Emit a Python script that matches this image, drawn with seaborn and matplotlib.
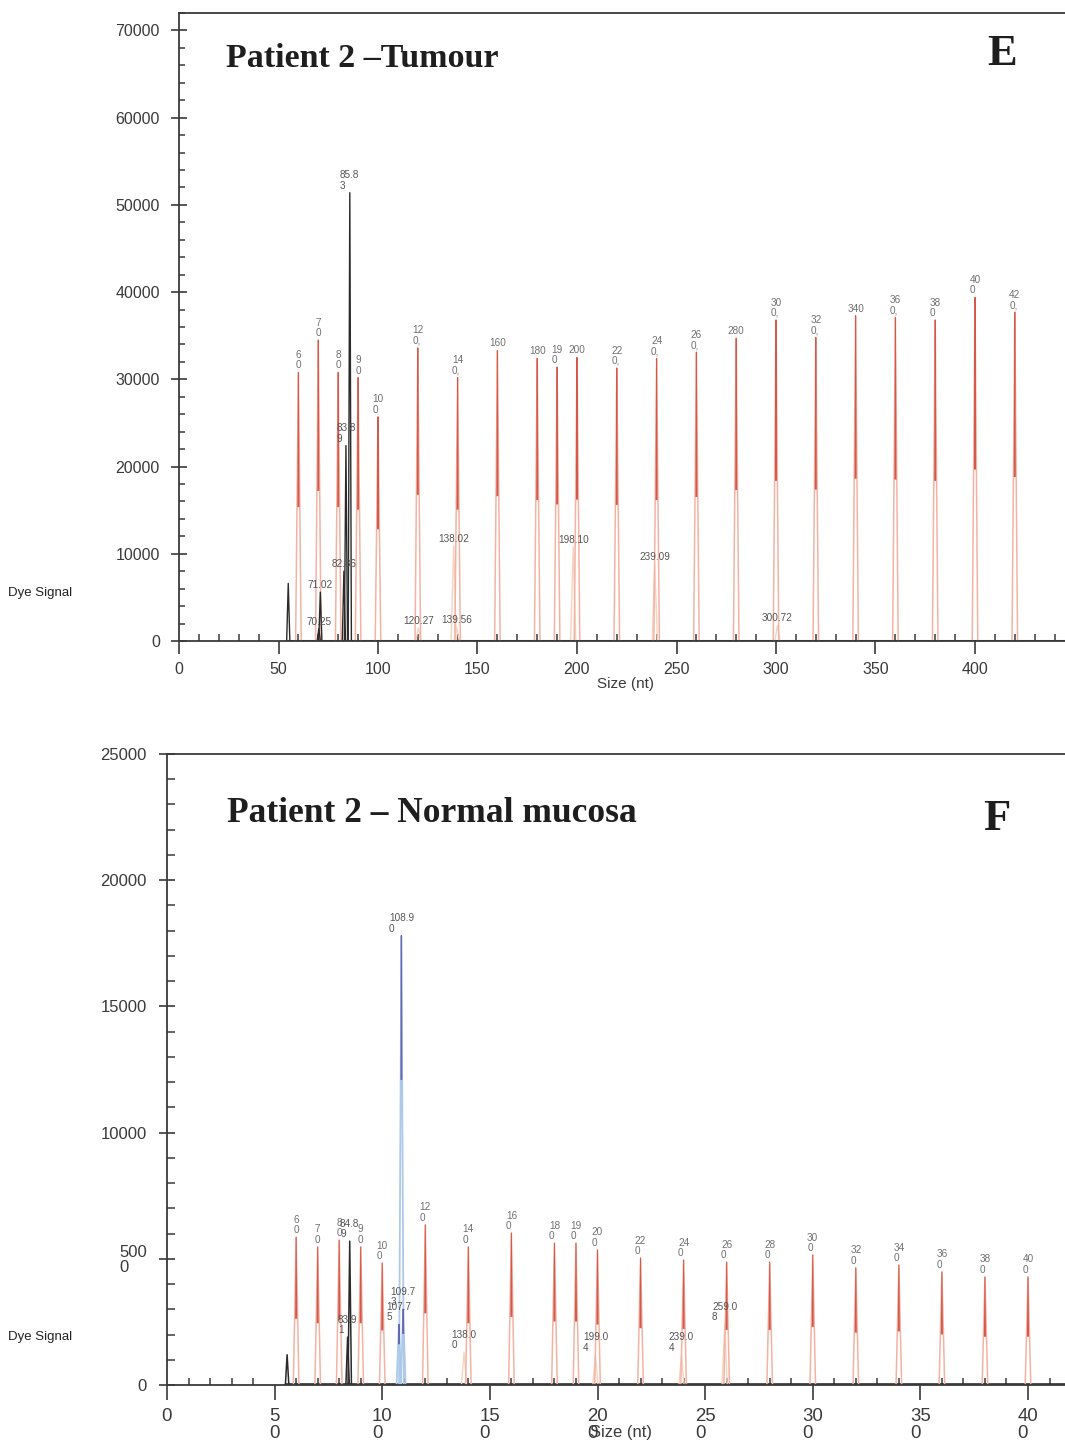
import numpy as np
import pandas as pd
import matplotlib
matplotlib.use("Agg")
import matplotlib.pyplot as plt
from matplotlib.ticker import MultipleLocator, FixedLocator
import seaborn as sns

# ---------------- Panel E : Patient 2 - Tumour ----------------
e_ladder_size = [60, 70, 80, 90, 100, 120, 140, 160, 180, 190, 200, 220,
                 240, 260, 280, 300, 320, 340, 360, 380, 400, 420]
e_ladder_height = [30800, 34500, 30800, 30200, 25700, 33600, 30200, 33300,
                   32400, 31400, 32500, 31300, 32400, 33100, 34700, 36800,
                   34800, 37300, 37100, 36800, 39400, 37700]
e_ladder_label = ["6\n0", "7\n0", "8\n0", "9\n0", "10\n0", "12\n0,", "14\n0,",
                  "160", "180", "19\n0", "200", "22\n0,", "24\n0,", "26\n0,",
                  "280", "30\n0,", "32\n0,", "340", "36\n0,", "38\n0", "40\n0",
                  "42\n0,"]

e_sample_size = [54.9, 70.25, 71.02, 82.86, 83.89, 85.83]
e_sample_height = [6600, 1400, 5600, 8000, 22400, 51400]
e_sample_label = ["", "70.25", "71.02", "82.86", "83.8\n9", "85.8\n3"]

e_other_size = [120.27, 138.02, 139.56, 198.10, 239.09, 300.72]
e_other_height = [1500, 10900, 1600, 10800, 8800, 1800]
e_other_label = ["120.27", "138.02", "139.56", "198.10", "239.09", "300.72"]

# ---------------- Panel F : Patient 2 - Normal mucosa ----------------
f_ladder_size = [60, 70, 80, 90, 100, 120, 140, 160, 180, 190, 200, 220,
                 240, 260, 280, 300, 320, 340, 360, 380, 400]
f_ladder_height = [5860, 5470, 5740, 5470, 4830, 6340, 5470, 6020, 5620, 5620,
                   5350, 5030, 4950, 4870, 4870, 5150, 4640, 4750, 4480, 4280,
                   4280]
f_ladder_label = ["6\n0", "7\n0", "8\n0", "9\n0", "10\n0", "12\n0", "14\n0",
                  "16\n0", "18\n0", "19\n0", "20\n0", "22\n0", "24\n0", "26\n0",
                  "28\n0", "30\n0", "32\n0", "34\n0", "36\n0", "38\n0", "40\n0"]

f_sample_size = [55.8, 83.91, 84.89]
f_sample_height = [1200, 1900, 5700]
f_sample_label = ["", "83.9\n1", "84.8\n9"]

f_blue_size = [107.75, 108.90, 109.73]
f_blue_height = [2400, 17800, 3000]
f_blue_label = ["107.7\n5", "108.9\n0", "109.7\n3"]

f_other_size = [138.00, 199.04, 239.04, 259.08]
f_other_height = [1300, 1200, 1200, 2400]
f_other_label = ["138.0\n0", "199.0\n4", "239.0\n4", "259.0\n8"]

e_xticklabels = ["0", "50", "100", "150", "200", "250", "300", "350", "400"]
e_yticklabels = ["0", "10000", "20000", "30000", "40000", "50000", "60000", "70000"]
f_xticklabels = ["0", "5\n0", "10\n0", "15\n0", "20\n0", "25\n0", "30\n0", "35\n0", "40\n0"]
f_yticklabels = ["0", "500\n0", "10000", "15000", "20000", "25000"]

RED = "#d35a4b"
PINK = "#f3b3a4"
PALE = "#f7d3bf"
BLACK = "#2a2a2a"
BLUE_D = "#6468b4"
BLUE_L = "#adc9ea"
LABEL_C = "#707070"
AXIS_C = "#3a3a3a"


def peak_frame(sizes, heights, hw, top_frac=0.0):
    rows = []
    for i, (s, h) in enumerate(zip(sizes, heights)):
        rows += [(i, s - hw, h * top_frac), (i, s, h), (i, s + hw, h * top_frac)]
    return pd.DataFrame(rows, columns=["peak", "size", "signal"])


def trace_frame(sizes, hw, start, end):
    # flat trace along the baseline, with small dips at called sizes
    xs, ys = [start], [0]
    for s in sorted(sizes):
        xs += [s - hw, s, s + hw]
        ys += [0, 0, 0]
    xs.append(end)
    ys.append(0)
    return pd.DataFrame({"size": xs, "signal": ys})


def draw_peaks(ax, df, color, lw):
    sns.lineplot(data=df, x="size", y="signal", units="peak", estimator=None,
                 sort=False, color=color, lw=lw, ax=ax, legend=False)


def draw_trace(ax, df, color, lw):
    sns.lineplot(data=df, x="size", y="signal", estimator=None, sort=False,
                 color=color, lw=lw, ax=ax, legend=False)


def label_peaks(ax, sizes, heights, labels, color=LABEL_C):
    for s, h, t in zip(sizes, heights, labels):
        if t:
            ax.annotate(t, (s, h), xytext=(0, 1.5), textcoords="offset points",
                        ha="center", va="bottom", multialignment="left",
                        fontsize=7.2, color=color, linespacing=1.05)


sns.set_style("ticks")
plt.rcParams["font.family"] = ["Liberation Sans", "DejaVu Sans"]

fig = plt.figure(figsize=(10.65, 14.41), dpi=100)
W, H = 1065, 1441

# ---------------- top axes ----------------
ax1 = fig.add_axes([179 / W, 1 - 641 / H, (W - 179) / W, 628 / H])
x1max = (W - 179) / 1.99
draw_trace(ax1, trace_frame(e_sample_size, 0.1, 55, x1max), BLACK, 2.2)
draw_peaks(ax1, peak_frame(e_other_size, e_other_height, 1.3), PALE, 1.0)
draw_peaks(ax1, peak_frame(e_ladder_size, e_ladder_height, 1.4), PINK, 1.1)
draw_peaks(ax1, peak_frame(e_ladder_size, e_ladder_height, 0.25, 0.5), RED, 0.75)
draw_peaks(ax1, peak_frame(e_sample_size, e_sample_height, 0.8), BLACK, 1.0)
label_peaks(ax1, e_ladder_size, e_ladder_height, e_ladder_label)
label_peaks(ax1, e_sample_size, e_sample_height, e_sample_label, "#555555")
label_peaks(ax1, e_other_size, e_other_height, e_other_label, "#555555")

ax1.set_xlim(0, x1max)
ax1.set_ylim(0, 72000)
ax1.xaxis.set_major_locator(FixedLocator(np.arange(0, 401, 50)))
ax1.set_xticklabels(e_xticklabels)
ax1.xaxis.set_minor_locator(MultipleLocator(10))
ax1.yaxis.set_major_locator(FixedLocator(np.arange(0, 70001, 10000)))
ax1.set_yticklabels(e_yticklabels)
ax1.yaxis.set_minor_locator(MultipleLocator(2000))
ax1.tick_params(axis="x", which="major", direction="out", length=9.5, width=1.2,
                pad=5.5, labelsize=11.5, colors=AXIS_C)
ax1.tick_params(axis="x", which="minor", direction="in", length=5, width=1.1, colors=AXIS_C)
ax1.tick_params(axis="y", which="major", direction="inout", length=11, width=1.2,
                pad=8.2, labelsize=11.5, colors=AXIS_C)
ax1.tick_params(axis="y", which="minor", direction="in", length=4.5, width=1.1, colors=AXIS_C)
ax1.set_xlabel("Size (nt)", fontsize=11, color=AXIS_C)
ax1.xaxis.set_label_coords(0.5045, -0.0685)
ax1.xaxis.label.set_va("center")
ax1.set_ylabel("Dye Signal", fontsize=9.5, rotation=0, ha="left", va="center", color="#222222")
ax1.yaxis.set_label_coords(-0.193, 0.0764)
ax1.text(0.053, 0.914, "Patient 2 \u2013Tumour", transform=ax1.transAxes,
         fontsize=24.5, fontweight="bold", family="Liberation Serif", color="#1e1e1e",
         va="baseline", ha="left")
ax1.text(0.912, 0.917, "E", transform=ax1.transAxes, fontsize=32, fontweight="bold",
         family="Liberation Serif", color="#1e1e1e", va="baseline", ha="left")

# ---------------- bottom axes ----------------
ax2 = fig.add_axes([167 / W, 1 - 1385 / H, (W - 167) / W, 631 / H])
x2max = (W - 167) / 2.1525
draw_trace(ax2, trace_frame(f_sample_size, 0.1, 55.5, x2max), BLACK, 2.6)
draw_trace(ax2, trace_frame(f_blue_size, 0.1, 57, x2max), "#7d86c8", 1.0)
draw_peaks(ax2, peak_frame(f_other_size, f_other_height, 1.2), PALE, 1.0)
draw_peaks(ax2, peak_frame(f_ladder_size, f_ladder_height, 1.3), PINK, 1.1)
draw_peaks(ax2, peak_frame(f_ladder_size, f_ladder_height, 0.25, 0.45), RED, 0.75)
draw_peaks(ax2, peak_frame(f_blue_size, f_blue_height, 1.1), BLUE_L, 1.3)
draw_peaks(ax2, peak_frame(f_blue_size, f_blue_height, 0.15, 0.68), BLUE_D, 0.9)
draw_peaks(ax2, peak_frame(f_sample_size, f_sample_height, 0.8), BLACK, 1.1)
label_peaks(ax2, f_ladder_size, f_ladder_height, f_ladder_label)
label_peaks(ax2, f_sample_size, f_sample_height, f_sample_label, "#555555")
label_peaks(ax2, f_blue_size, f_blue_height, f_blue_label, "#555555")
label_peaks(ax2, f_other_size, f_other_height, f_other_label, "#555555")

ax2.set_xlim(0, x2max)
ax2.set_ylim(0, 25000)
ax2.xaxis.set_major_locator(FixedLocator(np.arange(0, 401, 50)))
ax2.set_xticklabels(f_xticklabels, multialignment="left", linespacing=1.0)
ax2.xaxis.set_minor_locator(MultipleLocator(10))
ax2.yaxis.set_major_locator(FixedLocator(np.arange(0, 25001, 5000)))
ax2.set_yticklabels(f_yticklabels, multialignment="left", linespacing=1.0)
ax2.yaxis.set_minor_locator(MultipleLocator(1000))
ax2.tick_params(axis="x", which="major", direction="out", length=10.8, width=1.2,
                pad=5.7, labelsize=13.4, colors=AXIS_C)
ax2.tick_params(axis="x", which="minor", direction="in", length=5, width=1.1, colors=AXIS_C)
ax2.tick_params(axis="y", which="major", direction="inout", length=11, width=1.2,
                pad=9, labelsize=12, colors=AXIS_C)
ax2.tick_params(axis="y", which="minor", direction="in", length=6, width=1.1, colors=AXIS_C)
ax2.set_xlabel("Size (nt)", fontsize=12, color=AXIS_C)
ax2.xaxis.set_label_coords(0.5056, -0.0745)
ax2.xaxis.label.set_va("center")
ax2.set_ylabel("Dye Signal", fontsize=9.5, rotation=0, ha="left", va="center", color="#222222")
ax2.yaxis.set_label_coords(-0.177, 0.076)
ax2.text(0.0668, 0.892, "Patient 2 \u2013 Normal mucosa", transform=ax2.transAxes,
         fontsize=25.5, fontweight="bold", family="Liberation Serif", color="#1e1e1e",
         va="baseline", ha="left")
ax2.text(0.9087, 0.8796, "F", transform=ax2.transAxes, fontsize=32, fontweight="bold",
         family="Liberation Serif", color="#1e1e1e", va="baseline", ha="left")

for ax in (ax1, ax2):
    ax.spines["right"].set_visible(False)
    for side in ("left", "bottom", "top"):
        ax.spines[side].set_color(AXIS_C)
        ax.spines[side].set_linewidth(1.3)

fig.savefig("out.png", dpi=100, facecolor="white")
